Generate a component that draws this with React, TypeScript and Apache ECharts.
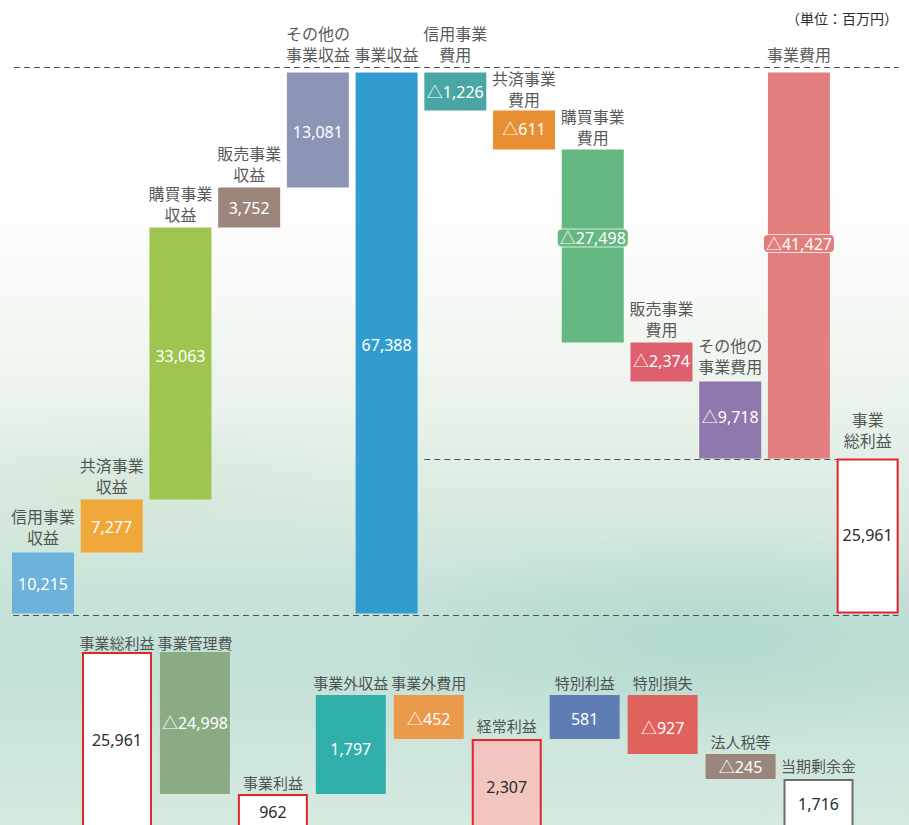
import React, { useEffect, useRef } from "react";
import * as echarts from "echarts";

// ---------------- data ----------------
const unitText = "（単位：百万円）";

const topCategories = [
  "信用事業\n収益", "共済事業\n収益", "購買事業\n収益", "販売事業\n収益", "その他の\n事業収益", "事業収益",
  "信用事業\n費用", "共済事業\n費用", "購買事業\n費用", "販売事業\n費用", "その他の\n事業費用", "事業費用", "事業\n総利益",
];
const topValues = [10215, 7277, 33063, 3752, 13081, 67388, -1226, -611, -27498, -2374, -9718, -41427, 25961];
const topKinds = ["up", "up", "up", "up", "up", "total", "down", "down", "down", "down", "down", "totalDown", "total"];
// schematic bar heights as drawn in the original (the original is not to scale)
const topDrawn = [61, 53, 272, 40, 115, 541, 38, 39, 193, 39, 77, 386, 155];

const bottomCategories = [
  "事業総利益", "事業管理費", "事業利益", "事業外収益", "事業外費用", "経常利益", "特別利益", "特別損失", "法人税等", "当期剰余金",
];
const bottomValues = [25961, -24998, 962, 1797, -452, 2307, 581, -927, -245, 1716];
const bottomKinds = ["total", "down", "total", "up", "down", "total", "up", "down", "down", "total"];
// schematic bar heights as drawn in the original (the original is not to scale)
const bottomDrawn = [193, 142, 51, 99, 44, 106, 44, 59, 25, 66];

// ---------------- styles ----------------
const FONT = "'Noto Sans', 'Noto Sans CJK JP', sans-serif";
const TEXT = "#2b2b2b";
const RED = "#e0262b";

const topColors = ["#6cb2db", "#efa839", "#9ec550", "#9c867b", "#8c95b5", "#319dcf", "#49a6a4", "#e88f33", "#66b883", "#de5f6e", "#8f78ae", "#e27f7e", "#ffffff"];
const topBorderColors: (string | null)[] = [null, null, null, null, null, null, null, null, null, null, null, null, RED];
const topValueOffset = [1, 1, -8, 0, 2, 2, 0, -1, -8, -1, -3, -22, -1];
const topBoxed = [false, false, false, false, false, false, false, false, true, false, false, true, false];
const topNameDist = [3.5, 1.5, 1.5, 1.5, 6.5, 6.5, 6.5, -0.5, 0.5, 1.5, 3.5, 6.5, 6.5];

const bottomColors = ["#ffffff", "#8bab85", "#ffffff", "#31b0ab", "#eb9a4b", "#f2c5c1", "#5f7db5", "#df625c", "#9a867c", "#ffffff"];
const bottomBorderColors: (string | null)[] = [RED, null, RED, null, null, RED, null, null, null, "#6d6d6d"];
const bottomValueOffset = [88, 0, 18, 4, 2, 48, 2, 3, 0, 25];
const bottomNameDist = [-1.5, -1.5, 1, 2, 2, 2.5, 2, 2, 2, 2.5];

function fmt(v: number) {
  const s = Math.abs(v).toLocaleString("en-US");
  return v < 0 ? "△" + s : s;
}

function layout(kinds: string[], drawn: number[]) {
  let level = 0;
  let lastTotal = 0;
  return kinds.map((k, i) => {
    const h = drawn[i];
    let low = 0;
    let high = 0;
    if (k === "up") {
      low = level; high = level + h; level = high;
    } else if (k === "down") {
      high = level; low = level - h; level = low;
    } else if (k === "total") {
      low = 0; high = h; level = h; lastTotal = h;
    } else {
      high = lastTotal; low = lastTotal - h;
    }
    return { low, high };
  });
}

export default function App() {
  const ref = useRef<HTMLDivElement>(null);

  useEffect(() => {
    if (!ref.current) return;
    const chart = echarts.init(ref.current, null, { renderer: "svg" });
    const topL = layout(topKinds, topDrawn);
    const botL = layout(bottomKinds, bottomDrawn);
    const topMax = Math.max(...topL.map((d) => d.high));
    const botMax = Math.max(...botL.map((d) => d.high));

    const topBars = topL.map((d, i) => {
      const border = topBorderColors[i];
      const boxed = topBoxed[i];
      return {
        value: d.high - d.low,
        itemStyle: {
          color: topColors[i],
          borderColor: border || topColors[i],
          borderWidth: border ? 2 : 0,
        },
        label: {
          show: true,
          position: "inside",
          offset: [0, topValueOffset[i]],
          formatter: fmt(topValues[i]),
          color: border ? TEXT : "#ffffff",
          fontSize: 16,
          fontFamily: FONT,
          ...(boxed
            ? {
                backgroundColor: topColors[i],
                borderColor: "rgba(255,255,255,0.75)",
                borderWidth: 1,
                borderRadius: 4,
                padding: [1, 2, 0, 2],
              }
            : {}),
        },
      };
    });

    const botBars = botL.map((d, i) => {
      const border = bottomBorderColors[i];
      return {
        value: d.high - d.low,
        itemStyle: {
          color: bottomColors[i],
          borderColor: border || bottomColors[i],
          borderWidth: border ? 2 : 0,
        },
        label: {
          show: true,
          ...(border
            ? { position: ["50%", bottomValueOffset[i]], align: "center", verticalAlign: "middle" }
            : { position: "inside", offset: [0, bottomValueOffset[i]] }),
          formatter: fmt(bottomValues[i]),
          color: border ? TEXT : "#ffffff",
          fontSize: 16,
          fontFamily: FONT,
        },
      };
    });

    const option: any = {
      animation: false,
      backgroundColor: "transparent",
      textStyle: { fontFamily: FONT },
      grid: [
        { left: 8.65, right: 7, top: 72.5, height: 541, containLabel: false },
        { left: 78, right: 51.5, top: 652, height: 193, containLabel: false },
      ],
      xAxis: [
        { type: "category", gridIndex: 0, data: topCategories, show: false },
        { type: "category", gridIndex: 1, data: bottomCategories, show: false },
      ],
      yAxis: [
        { type: "value", gridIndex: 0, min: 0, max: topMax, show: false },
        { type: "value", gridIndex: 1, min: 0, max: botMax, show: false },
      ],
      series: [
        {
          type: "bar", xAxisIndex: 0, yAxisIndex: 0, stack: "top", barWidth: 62, silent: true,
          itemStyle: { color: "transparent" }, data: topL.map((d) => d.low),
        },
        {
          type: "bar", xAxisIndex: 0, yAxisIndex: 0, stack: "top", barWidth: 62, silent: true,
          data: topBars,
        },
        {
          type: "scatter", xAxisIndex: 0, yAxisIndex: 0, symbolSize: 1, silent: true,
          itemStyle: { color: "transparent" },
          data: topL.map((d, i) => ({
            name: topCategories[i],
            value: [i, d.high],
            label: { distance: topNameDist[i] },
          })),
          label: {
            show: true, position: "top", formatter: "{b}", color: TEXT, fontSize: 16,
            lineHeight: 21, align: "center", fontFamily: FONT,
          },
        },
        {
          type: "bar", xAxisIndex: 1, yAxisIndex: 1, stack: "bot", barWidth: 70, silent: true,
          itemStyle: { color: "transparent" }, data: botL.map((d) => d.low),
        },
        {
          type: "bar", xAxisIndex: 1, yAxisIndex: 1, stack: "bot", barWidth: 70, silent: true,
          data: botBars,
        },
        {
          type: "scatter", xAxisIndex: 1, yAxisIndex: 1, symbolSize: 1, silent: true,
          itemStyle: { color: "transparent" },
          data: botL.map((d, i) => ({
            name: bottomCategories[i],
            value: [i, d.high],
            label: { distance: bottomNameDist[i] },
          })),
          label: {
            show: true, position: "top", formatter: "{b}", color: TEXT, fontSize: 15,
            lineHeight: 20, align: "center", fontFamily: FONT,
          },
        },
      ],
    };
    chart.setOption(option);

    // reference lines, placed through the chart's own scales
    const p = (i: number, v: number) =>
      chart.convertToPixel({ xAxisIndex: 0, yAxisIndex: 0 }, [i, v]) as number[];
    const [x0, yTop] = p(0, topMax);
    const [x12] = p(12, 0);
    const [x6, yGross] = p(6, topL[12].high);
    const [, yBase] = p(0, 0);
    const half = 31;
    const dash = { stroke: "#505050", lineWidth: 1, lineDash: [6, 4] };
    const r = (v: number) => Math.round(v) + 0.5;
    chart.setOption({
      graphic: [
        { type: "line", silent: true, shape: { x1: x0 - half + 2, y1: r(yTop - 5.5), x2: x12 + half, y2: r(yTop - 5.5) }, style: dash },
        { type: "line", silent: true, shape: { x1: x6 - half, y1: r(yGross), x2: x12 - half, y2: r(yGross) }, style: dash },
        { type: "line", silent: true, shape: { x1: x0 - half + 1, y1: r(yBase + 1), x2: x12 + half, y2: r(yBase + 1) }, style: dash },
        {
          type: "text", silent: true, right: 11, top: 11,
          style: { text: unitText, fill: TEXT, font: `14px ${FONT}` },
        },
      ],
    });

    return () => chart.dispose();
  }, []);

  return (
    <div
      ref={ref}
      style={{
        position: "fixed",
        left: 0,
        top: 0,
        width: 909,
        height: 860,
        background:
          "radial-gradient(ellipse 55% 18% at 78% 74%, rgba(165,212,203,0.55), rgba(165,212,203,0) 70%)," +
          "radial-gradient(ellipse 45% 15% at 12% 58%, rgba(210,230,212,0.6), rgba(210,230,212,0) 70%)," +
          "linear-gradient(180deg, #ffffff 0%, #ffffff 22%, #f6f9f5 35%, #e9f2eb 48%, #d8eae0 60%, #c6e2d9 70%, #c4e1d8 78%, #cfe6dc 88%, #d9ece1 100%)",
      }}
    />
  );
}
